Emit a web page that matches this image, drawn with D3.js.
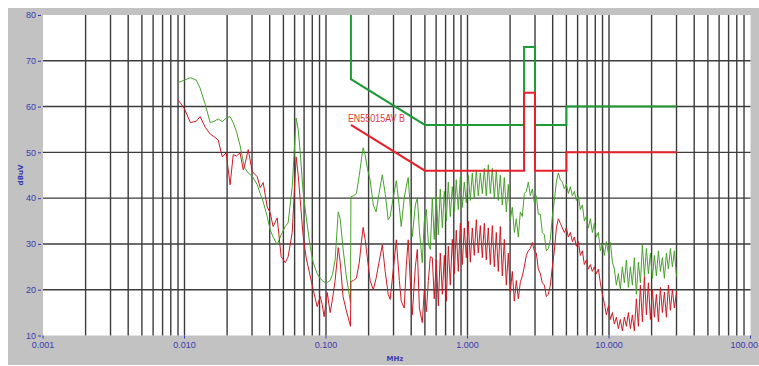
<!DOCTYPE html>
<html>
<head>
<meta charset="utf-8">
<script src="https://cdn.jsdelivr.net/npm/d3@7"></script>
<style>
  html, body { margin: 0; padding: 0; background: #fff; }
  svg { display: block; }
</style>
</head>
<body>
<div id="chart"></div>
<script>
// sweep frequencies (MHz), shared by both detector traces
const freqMHz = [
  0.00900, 0.0100, 0.0110, 0.0121, 0.0129, 0.0140, 0.0152, 0.0162, 0.0173, 0.0185,
  0.0197, 0.0210, 0.0221, 0.0233, 0.0247, 0.0260, 0.0268, 0.0282, 0.0301, 0.0326,
  0.0343, 0.0360, 0.0384, 0.0403, 0.0423, 0.0452, 0.0482, 0.0515, 0.0540, 0.0577,
  0.0596, 0.0615, 0.0636, 0.0657, 0.0690, 0.0724, 0.0773, 0.0812, 0.0866, 0.0910,
  0.0940, 0.0970, 0.102, 0.107, 0.111, 0.116, 0.122, 0.126, 0.132, 0.139, 0.149,
  0.150, 0.156, 0.164, 0.172, 0.178, 0.183, 0.189, 0.196, 0.205, 0.216,
  0.226, 0.237, 0.250, 0.262, 0.275, 0.284, 0.298, 0.314, 0.330, 0.340,
  0.357, 0.369, 0.381, 0.394, 0.407, 0.428, 0.442, 0.457, 0.479, 0.495,
  0.512, 0.529, 0.546,
  0.564, 0.582, 0.602, 0.622, 0.642, 0.664, 0.686, 0.708, 0.732, 0.756,
  0.781, 0.807, 0.833, 0.861, 0.890, 0.919, 0.949, 0.981, 1.013, 1.047,
  1.081, 1.117, 1.154, 1.192, 1.232, 1.273, 1.315, 1.358, 1.403, 1.450,
  1.498, 1.547, 1.598, 1.651, 1.706, 1.762, 1.821, 1.881, 1.943, 2.007,
  2.074, 2.143, 2.213, 2.287, 2.362, 2.440, 2.521, 2.605, 2.691, 2.780,
  2.872, 2.967, 3.065, 3.167, 3.272, 3.380, 3.492, 3.607, 3.727, 3.850,
  3.978, 4.109, 4.245, 4.386, 4.531, 4.681, 4.836, 4.996, 5.161, 5.332,
  5.509, 5.691, 5.879, 6.074, 6.275, 6.483, 6.697, 6.919, 7.148, 7.384,
  7.629, 7.881, 8.142, 8.412, 8.690, 8.978, 9.275, 9.582, 9.899, 10.23,
  10.57, 10.91, 11.28, 11.65, 12.03, 12.43, 12.84, 13.27, 13.71, 14.16,
  14.63, 15.11, 15.61, 16.13, 16.67, 17.22, 17.79, 18.38, 18.98, 19.61,
  20.26, 20.93, 21.62, 22.34, 23.08, 23.84, 24.63, 25.45, 26.29, 27.16,
  28.06, 28.99, 30.0
];

// peak detector trace (green), dBuV
const peakDb = [
  65.2, 65.8, 66.3, 65.8, 64.0, 60.5, 56.5, 56.8, 57.3, 56.7,
  57.5, 57.8, 56.5, 54.5, 51.5, 48.0, 46.5, 45.5, 44.8, 43.0,
  41.0, 39.2, 36.0, 33.1, 31.5, 29.8, 32.0, 33.8, 34.6, 42.5,
  50.0, 57.5, 55.0, 50.0, 41.2, 36.0, 29.4, 26.0, 23.5, 22.5,
  22.0, 21.7, 21.6, 22.0, 23.3, 26.5, 37.0, 35.5, 29.0, 23.0, 17.2,
  40.3, 40.5, 41.0, 45.0, 48.5, 51.0, 49.5, 46.5, 44.0, 38.5,
  37.0, 41.0, 45.1, 41.0, 35.3, 36.0, 40.0, 43.8, 38.0, 33.8,
  40.0, 42.5, 44.5, 38.0, 31.6, 38.5, 40.1, 33.0, 25.9, 35.0,
  37.5, 30.0, 28.8,
  40.0, 31.0, 40.5, 32.0, 42.0, 33.5, 41.5, 35.0, 43.5, 36.0,
  42.5, 37.0, 44.0, 37.5, 44.7, 38.0, 43.5, 39.0, 45.0, 39.5,
  45.5, 40.0, 46.0, 40.5, 45.5, 41.0, 46.5, 40.5, 47.3, 41.0,
  46.5, 40.0, 46.0, 39.5, 45.0, 38.5, 44.5, 37.0, 43.0, 35.3,
  38.0, 32.5, 35.5, 31.5, 37.0, 36.0, 41.0, 41.5, 43.5, 40.5,
  42.0, 39.0, 40.5, 36.5, 36.5, 32.5, 32.0, 28.5, 29.0, 31.0,
  36.0, 39.5, 43.5, 45.5, 44.0, 43.5, 42.0, 43.0, 41.0, 42.5,
  40.5, 41.5, 39.5, 40.5, 37.5, 38.5, 35.0, 36.0, 33.5, 35.5,
  32.5, 34.5, 31.5, 32.5, 28.5, 30.0, 27.5, 30.5, 28.0, 30.3,
  26.0, 24.5, 21.0, 23.5, 20.0, 25.0, 21.5, 26.5, 20.5, 25.0,
  21.0, 27.0, 19.0, 26.0, 21.5, 29.8, 23.0, 29.0, 23.5, 28.0,
  22.5, 27.5, 23.0, 28.5, 24.0, 27.0, 22.5, 28.0, 24.5, 29.0,
  25.0, 28.5, 22.9
];

// average detector trace (red), dBuV
const avgDb = [
  61.5, 59.5, 56.5, 56.8, 57.8, 55.5, 54.0, 53.4, 52.7, 49.0,
  49.9, 42.9, 49.5, 49.2, 49.9, 46.2, 47.5, 50.6, 45.8, 44.7,
  42.3, 43.4, 38.1, 36.8, 33.8, 35.7, 27.2, 25.9, 27.2, 32.5,
  41.0, 49.0, 45.0, 39.7, 31.6, 27.0, 23.0, 20.0, 16.3, 18.5,
  16.8, 14.1, 19.4, 15.0, 17.9, 22.0, 29.2, 26.0, 18.5, 15.5, 12.0,
  21.8, 22.0, 22.5, 26.0, 30.5, 33.6, 31.0, 27.0, 22.0, 20.0,
  22.5, 26.0, 29.8, 24.0, 19.0, 17.9, 24.0, 30.9, 22.0, 17.5,
  16.0, 25.0, 30.9, 22.0, 14.5, 25.0, 28.8, 16.0, 12.8, 20.0,
  15.2, 22.0, 27.2,
  27.0, 18.0, 26.5, 16.5, 28.0, 19.0, 27.5, 17.5, 29.5, 21.0,
  31.0, 23.5, 33.0, 24.0, 34.5, 25.5, 33.5, 27.0, 35.0, 26.0,
  33.5, 27.5, 35.3, 28.0, 34.0, 27.0, 34.5, 26.5, 33.5, 25.5,
  34.0, 25.0, 32.5, 24.0, 33.8, 23.0, 31.0, 21.0, 28.0, 19.5,
  24.0, 17.5, 22.0, 18.0, 21.6, 23.0, 25.0, 27.5, 28.5, 29.0,
  30.3, 28.5, 28.0, 24.5, 23.5, 21.5, 21.0, 18.5, 19.0, 21.0,
  25.0, 28.5, 33.5, 35.5, 34.5, 33.5, 32.5, 33.5, 31.5, 32.5,
  30.5, 31.5, 29.5, 30.5, 27.5, 28.5, 25.5, 26.5, 24.5, 25.5,
  24.0, 25.0, 23.5, 24.5, 21.5, 19.0, 17.0, 14.5, 16.5, 13.5,
  15.0, 12.5, 14.0, 11.5, 13.5, 11.0, 14.0, 12.0, 15.0, 11.5,
  14.5, 11.0, 18.0, 12.0, 21.0, 13.0, 22.9, 14.5, 21.5, 13.5,
  20.0, 14.0, 19.0, 13.0, 20.5, 15.0, 19.5, 14.0, 21.0, 15.5,
  20.0, 16.0, 19.5, 13.0
];

// EN55015 class B limits
const qpLimitFreq = [0.15, 0.15, 0.5, 2.51, 2.51, 3.0, 3.0, 5, 5, 30];
const qpLimitDb   = [80, 66, 56, 56, 73, 73, 56, 56, 60, 60];
const avLimitFreq = [0.15, 0.5, 2.51, 2.51, 3.0, 3.0, 5, 5, 30];
const avLimitDb   = [56, 46, 46, 63, 63, 46, 46, 50, 50];

const xTicks = [0.001, 0.01, 0.1, 1, 10, 100];
const xTickLabels = ['0.001', '0.010', '0.100', '1.000', '10.000', '100.00'];
const yTicks = [10, 20, 30, 40, 50, 60, 70, 80];

const W = 759, H = 366;
const P = { left: 43, right: 750.5, top: 15, bottom: 335.5 };
const BLUE = '#3a3ab0';

const svg = d3.select('#chart').append('svg')
  .attr('width', W)
  .attr('height', H);

// grey frame + white plot
svg.append('rect')
  .attr('x', 8).attr('y', 8)
  .attr('width', W - 8).attr('height', 357)
  .attr('fill', '#c2c2c2');

svg.append('rect')
  .attr('x', P.left).attr('y', P.top)
  .attr('width', P.right - P.left).attr('height', P.bottom - P.top)
  .attr('fill', '#fff');

const x = d3.scaleLog().domain([0.001, 100]).range([P.left, P.right]);
const y = d3.scaleLinear().domain([10, 80]).range([P.bottom, P.top]);

svg.append('defs').append('clipPath').attr('id', 'plotClip')
  .append('rect')
  .attr('x', P.left).attr('y', P.top)
  .attr('width', P.right - P.left).attr('height', P.bottom - P.top);

// grid: every 1..9 per decade, every 10 dB
const gridFreqs = [];
for (let e = -3; e < 2; e++) {
  for (let m = 1; m < 10; m++) {
    const f = m * Math.pow(10, e);
    if (f > 0.0011) gridFreqs.push(f);
  }
}

const grid = svg.append('g').attr('stroke', '#3c3c3c').attr('stroke-width', 1.4);
grid.selectAll('line.v')
  .data(gridFreqs)
  .join('line')
  .attr('class', 'v')
  .attr('x1', d => x(d)).attr('x2', d => x(d))
  .attr('y1', P.top).attr('y2', P.bottom);

grid.selectAll('line.h')
  .data(yTicks.filter(t => t > 10 && t < 80))
  .join('line')
  .attr('class', 'h')
  .attr('x1', P.left).attr('x2', P.right)
  .attr('y1', d => y(d)).attr('y2', d => y(d));

// measured traces
const traces = svg.append('g').attr('clip-path', 'url(#plotClip)');

const traceLine = d3.line()
  .x((d, i) => x(freqMHz[i]))
  .y(d => y(d));

traces.append('path')
  .attr('d', traceLine(peakDb))
  .attr('fill', 'none')
  .attr('stroke', '#47a22c')
  .attr('stroke-width', 1)
  .attr('stroke-linejoin', 'round');

traces.append('path')
  .attr('d', traceLine(avgDb))
  .attr('fill', 'none')
  .attr('stroke', '#cf1a24')
  .attr('stroke-width', 1)
  .attr('stroke-linejoin', 'round');

// limit lines
const limitLine = (fs) => d3.line()
  .x((d, i) => x(fs[i]))
  .y(d => y(d));

traces.append('path')
  .attr('d', limitLine(qpLimitFreq)(qpLimitDb))
  .attr('fill', 'none')
  .attr('stroke', '#1e9a38')
  .attr('stroke-width', 2);

traces.append('path')
  .attr('d', limitLine(avLimitFreq)(avLimitDb))
  .attr('fill', 'none')
  .attr('stroke', '#e8202c')
  .attr('stroke-width', 2);

svg.append('text')
  .text('EN55015AV B')
  .attr('x', x(0.15) - 3)
  .attr('y', 122)
  .attr('fill', '#e23a3a')
  .attr('font-family', 'Liberation Sans, Arial, sans-serif')
  .attr('font-size', '10px')
  .attr('textLength', 57)
  .attr('lengthAdjust', 'spacingAndGlyphs');

// y axis labels with dash ticks
const yAxis = svg.append('g');
yAxis.selectAll('text')
  .data(yTicks)
  .join('text')
  .text(d => d)
  .attr('x', 36)
  .attr('y', d => y(d))
  .attr('dy', '0.35em')
  .attr('text-anchor', 'end')
  .attr('fill', BLUE)
  .attr('font-family', 'Liberation Sans, Arial, sans-serif')
  .attr('font-size', '9px');

yAxis.selectAll('line')
  .data(yTicks)
  .join('line')
  .attr('x1', 38).attr('x2', 41)
  .attr('y1', d => y(d) + 0.5).attr('y2', d => y(d) + 0.5)
  .attr('stroke', BLUE)
  .attr('stroke-width', 1);

// x axis (last label pulled in so it stays inside the frame)
const xAxis = svg.append('g');
xAxis.selectAll('line')
  .data(xTicks)
  .join('line')
  .attr('x1', d => x(d)).attr('x2', d => x(d))
  .attr('y1', P.bottom).attr('y2', P.bottom + 3)
  .attr('stroke', BLUE);

xAxis.selectAll('text')
  .data(xTicks)
  .join('text')
  .text((d, i) => xTickLabels[i])
  .attr('x', (d, i) => i === xTicks.length - 1 ? W - 1 : x(d))
  .attr('y', 348)
  .attr('text-anchor', (d, i) => i === xTicks.length - 1 ? 'end' : 'middle')
  .attr('fill', BLUE)
  .attr('font-family', 'Liberation Sans, Arial, sans-serif')
  .attr('font-size', '9px');

svg.append('text')
  .text('MHz')
  .attr('x', 395).attr('y', 361)
  .attr('text-anchor', 'middle')
  .attr('fill', BLUE)
  .attr('font-family', 'DejaVu Sans, sans-serif')
  .attr('font-weight', 'bold')
  .attr('font-size', '7px');

svg.append('text')
  .text('dBuV')
  .attr('transform', 'translate(23,175) rotate(-90)')
  .attr('text-anchor', 'middle')
  .attr('fill', BLUE)
  .attr('font-family', 'DejaVu Sans, sans-serif')
  .attr('font-weight', 'bold')
  .attr('font-size', '7px');
</script>
</body>
</html>
